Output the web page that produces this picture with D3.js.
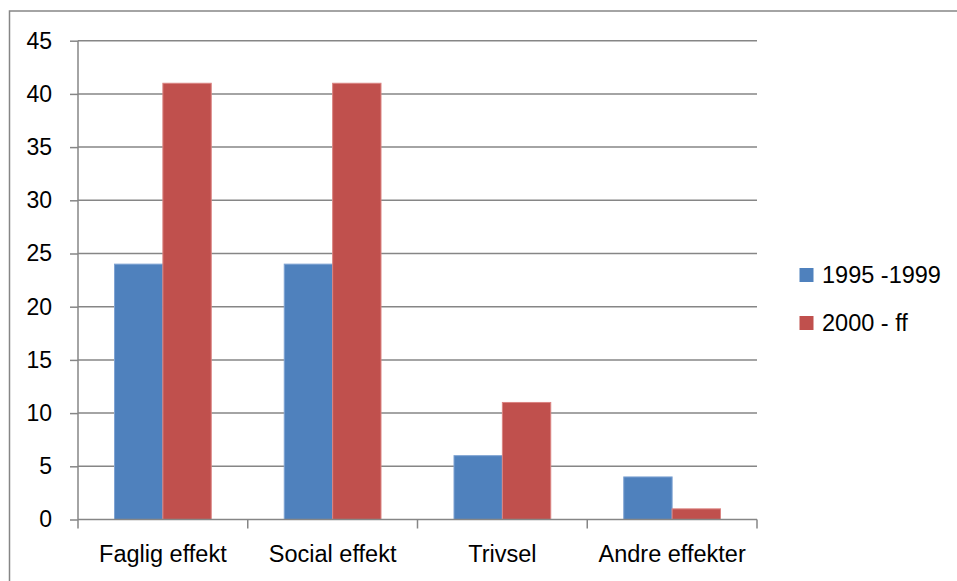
<!DOCTYPE html>
<html><head><meta charset="utf-8">
<script src="https://cdn.jsdelivr.net/npm/d3@7"></script>
<style>html,body{margin:0;padding:0;background:#fff;}svg{display:block;}</style>
</head><body>
<script>
const categories = ["Faglig effekt", "Social effekt", "Trivsel", "Andre effekter"];
const seriesNames = ["1995 -1999", "2000 - ff"];
const series1 = [24, 24, 6, 4];
const series2 = [41, 41, 11, 1];
const yTicks = [0, 5, 10, 15, 20, 25, 30, 35, 40, 45];
const colors = ["#4F81BD", "#C0504D"];
const strokes = ["#7FA3D3", "#DB8482"];

(function () {
const W = 957, H = 581;
const svg = d3.select("body").append("svg").attr("width", W).attr("height", H);
const font = "'Liberation Sans', Arial, sans-serif";

// outer border
svg.append("rect").attr("x", 9.5).attr("y", 11).attr("width", 960).attr("height", 600)
  .attr("fill", "none").attr("stroke", "#868686").attr("stroke-width", 1.5);

const pL = 78, pR = 757, pT = 40.7, pB = 519.5;
const x = d3.scaleBand().domain(categories).range([pL, pR]).paddingInner(0).paddingOuter(0);
const y = d3.scaleLinear().domain([0, 45]).range([pB, pT]);
const inner = 0.57;
const bw = x.bandwidth() * inner / 2;

// gridlines
svg.append("g").selectAll("line").data(yTicks.filter(d => d > 0)).join("line")
  .attr("x1", pL).attr("x2", pR).attr("y1", d => y(d)).attr("y2", d => y(d))
  .attr("stroke", "#868686").attr("stroke-width", 1.5);

// bars
const data = categories.map((c, i) => ({c, v: [series1[i], series2[i]]}));
data.forEach(d => {
  d.v.forEach((v, k) => {
    const cx = x(d.c) + x.bandwidth() / 2;
    svg.append("rect")
      .attr("x", cx - bw + k * bw).attr("y", y(v))
      .attr("width", bw).attr("height", y(0) - y(v))
      .attr("fill", colors[k]).attr("stroke", strokes[k]).attr("stroke-width", 1);
  });
});

// y axis
const yAxis = svg.append("g").attr("transform", `translate(${pL},0)`)
  .call(d3.axisLeft(y).tickValues(yTicks).tickSize(8).tickPadding(18));
yAxis.select(".domain").attr("stroke", "#868686").attr("stroke-width", 1.5).attr("d", `M0,${pT}V${pB}`);
yAxis.selectAll(".tick line").attr("stroke", "#868686").attr("stroke-width", 1.5);
yAxis.selectAll(".tick text").attr("font-family", font).attr("font-size", 23).attr("fill", "#000");

// x axis
const xAxis = svg.append("g").attr("transform", `translate(0,${pB})`)
  .call(d3.axisBottom(x).tickSize(0).tickPadding(26));
xAxis.select(".domain").attr("stroke", "#868686").attr("stroke-width", 1.5).attr("d", `M${pL},0H${pR}`);
xAxis.selectAll(".tick text").attr("font-family", font).attr("font-size", 23.5).attr("fill", "#000");
const bounds = categories.map(c => x(c)).concat([pR]);
xAxis.append("g").selectAll("line").data(bounds).join("line")
  .attr("x1", d => d).attr("x2", d => d).attr("y1", 0).attr("y2", 9)
  .attr("stroke", "#868686").attr("stroke-width", 1.5);

// legend
const legend = svg.append("g");
seriesNames.forEach((n, i) => {
  const ly = 275 + i * 48;
  legend.append("rect").attr("x", 799.5).attr("y", ly - 7).attr("width", 14).attr("height", 14).attr("fill", colors[i]);
  legend.append("text").attr("x", 822).attr("y", ly).attr("dy", "0.35em")
    .attr("font-family", font).attr("font-size", 23.5).attr("fill", "#000").text(n);
});
})();
</script>
</body></html>
